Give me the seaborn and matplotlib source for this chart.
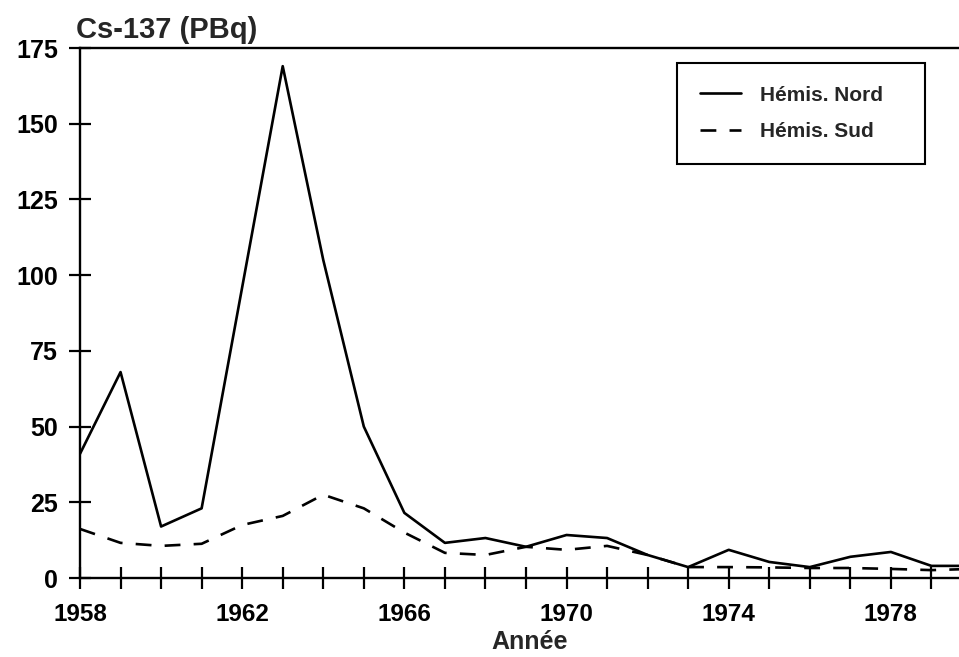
import pandas as pd
import matplotlib
matplotlib.use('Agg')
import matplotlib.pyplot as plt
import seaborn as sns

# values (PBq per year)
years = list(range(1958, 1981))
nord = [41, 68, 17, 23, 96, 169, 105, 50, 21.5, 11.6, 13.2, 10.3, 14.2, 13.2,
        7.6, 3.6, 9.3, 5.3, 3.6, 7, 8.6, 4, 4]
sud = [16.2, 11.6, 10.6, 11.3, 17.5, 20.5, 27.5, 23, 15, 8.3, 7.6, 10.3, 9.3, 10.6,
       7.6, 3.6, 3.6, 3.5, 3.3, 3.3, 3, 2.6, 3]
series_names = ['Hémis. Nord', 'Hémis. Sud']
xtick_years = [1958, 1962, 1966, 1970, 1974, 1978]
ytick_values = [0, 25, 50, 75, 100, 125, 150, 175]

df = pd.DataFrame({
    'Année': years * 2,
    'Cs137': nord + sud,
    'Hémisphère': [series_names[0]] * len(years) + [series_names[1]] * len(years),
})

sns.set_style('white')
plt.rcParams['font.family'] = ['Liberation Sans', 'DejaVu Sans']
plt.rcParams['font.weight'] = 'bold'

fig = plt.figure(figsize=(9.59, 6.57), dpi=100)
ax = fig.add_axes([80 / 959, 79 / 657, 879 / 959, 530 / 657])

sns.lineplot(data=df, x='Année', y='Cs137', style='Hémisphère', color='black',
             dashes={series_names[0]: '', series_names[1]: (6, 5)},
             linewidth=1.9, ax=ax)

ax.set_xlim(1958, 1979.68)
ax.set_ylim(0, 175)

ax.set_xticks(years[:-1])
ax.set_xticklabels([str(y) if y in xtick_years else '' for y in years[:-1]])
ax.set_yticks(ytick_values)
ax.set_yticklabels([str(v) for v in ytick_values])
ax.tick_params(axis='x', direction='inout', length=16, width=1.6, pad=10,
               labelsize=17.5, colors='black', bottom=True)
ax.tick_params(axis='y', direction='inout', length=16, width=1.6, pad=8,
               labelsize=18, colors='black', left=True)
for lab in ax.get_xticklabels() + ax.get_yticklabels():
    lab.set_fontweight('bold')

for side in ['left', 'bottom', 'top']:
    ax.spines[side].set_visible(True)
    ax.spines[side].set_color('black')
    ax.spines[side].set_linewidth(1.7)
ax.spines['right'].set_visible(False)

ax.set_ylabel('')
ax.set_xlabel('Année', fontsize=18, fontweight='bold')
ax.xaxis.set_label_coords(0.512, -0.099)
ax.set_title('Cs-137 (PBq)', loc='left', fontsize=21, fontweight='bold', pad=7,
             x=-0.004)

leg = ax.legend(loc='upper left', bbox_to_anchor=(0.679, 0.779, 0.282, 0.193),
                mode='expand', frameon=True, fancybox=False, shadow=False,
                borderaxespad=0, borderpad=1.1, handlelength=2.0,
                handletextpad=0.9, labelspacing=0.82, title=None,
                prop={'size': 15, 'weight': 'bold'})
leg.get_frame().set_edgecolor('black')
leg.get_frame().set_linewidth(1.5)
leg.get_frame().set_alpha(1)

fig.savefig('out.png', dpi=100)
